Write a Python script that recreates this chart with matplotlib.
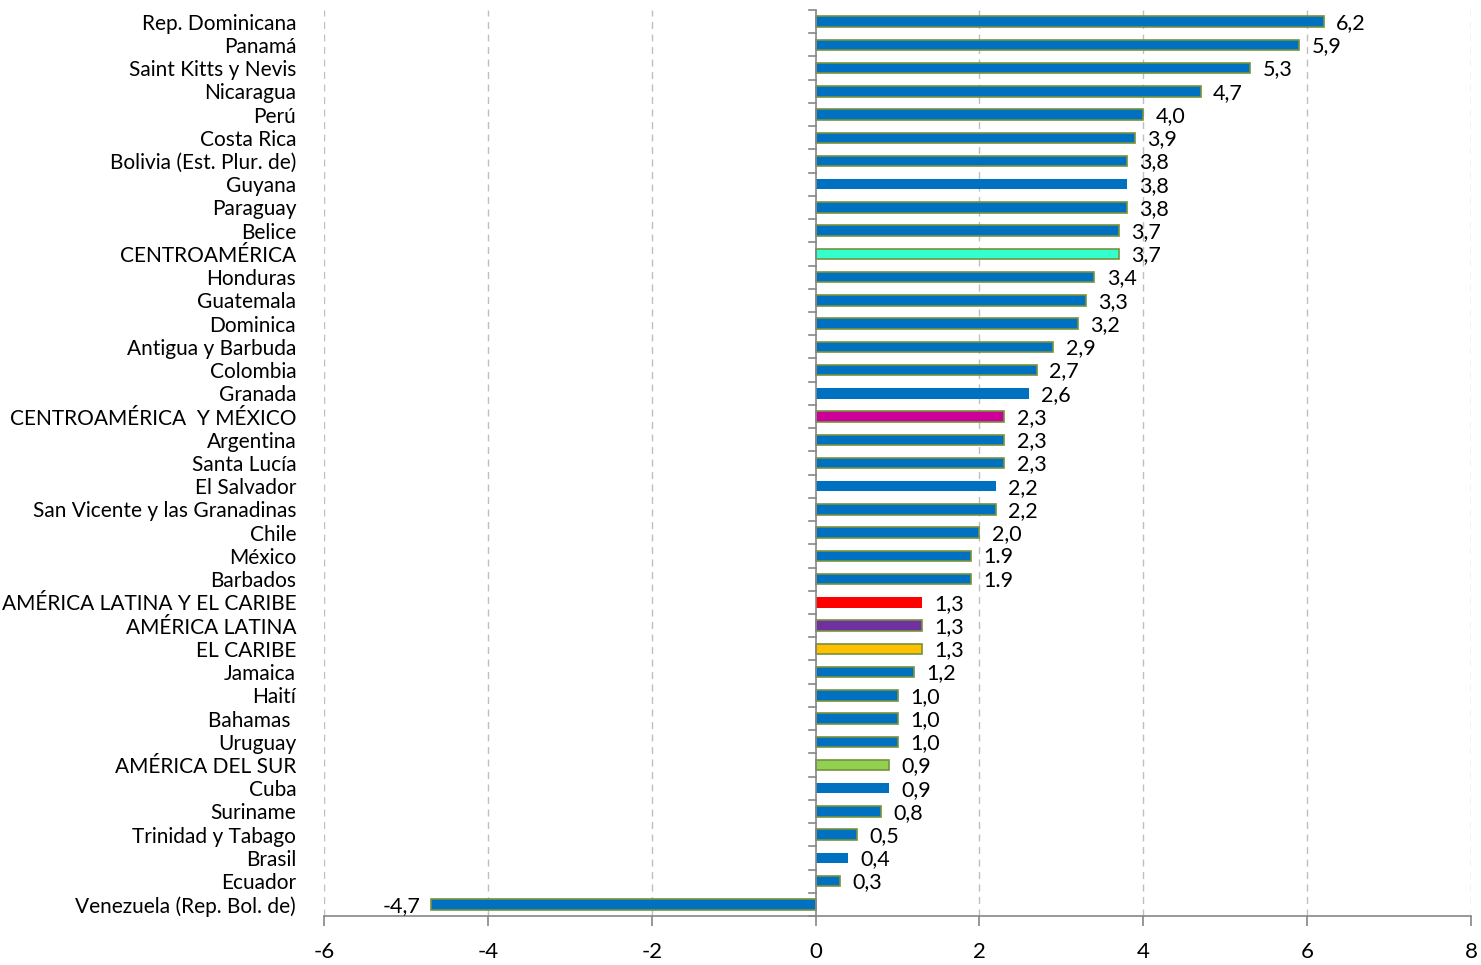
import matplotlib
matplotlib.use("Agg")
import matplotlib.pyplot as plt

plt.rcParams['font.family'] = ['Lato', 'DejaVu Sans']

categories = ["Rep. Dominicana", "Panamá", "Saint Kitts y Nevis", "Nicaragua", "Perú",
              "Costa Rica", "Bolivia (Est. Plur. de)", "Guyana", "Paraguay", "Belice",
              "CENTROAMÉRICA", "Honduras", "Guatemala", "Dominica", "Antigua y Barbuda",
              "Colombia", "Granada", "CENTROAMÉRICA  Y MÉXICO", "Argentina", "Santa Lucía",
              "El Salvador", "San Vicente y las Granadinas", "Chile", "México", "Barbados",
              "AMÉRICA LATINA Y EL CARIBE", "AMÉRICA LATINA", "EL CARIBE", "Jamaica", "Haití",
              "Bahamas ", "Uruguay", "AMÉRICA DEL SUR", "Cuba", "Suriname",
              "Trinidad y Tabago", "Brasil", "Ecuador", "Venezuela (Rep. Bol. de)"]
values = [6.2, 5.9, 5.3, 4.7, 4.0, 3.9, 3.8, 3.8, 3.8, 3.7,
          3.7, 3.4, 3.3, 3.2, 2.9, 2.7, 2.6, 2.3, 2.3, 2.3,
          2.2, 2.2, 2.0, 1.9, 1.9, 1.3, 1.3, 1.3, 1.2, 1.0,
          1.0, 1.0, 0.9, 0.9, 0.8, 0.5, 0.4, 0.3, -4.7]
value_labels = ["6,2", "5,9", "5,3", "4,7", "4,0", "3,9", "3,8", "3,8", "3,8", "3,7",
                "3,7", "3,4", "3,3", "3,2", "2,9", "2,7", "2,6", "2,3", "2,3", "2,3",
                "2,2", "2,2", "2,0", "1.9", "1.9", "1,3", "1,3", "1,3", "1,2", "1,0",
                "1,0", "1,0", "0,9", "0,9", "0,8", "0,5", "0,4", "0,3", "-4,7"]
x_ticks = [-6, -4, -2, 0, 2, 4, 6, 8]

BLUE = "#0070C0"
special_colors = {
    "CENTROAMÉRICA": "#33FFCC",
    "CENTROAMÉRICA  Y MÉXICO": "#CC0099",
    "AMÉRICA LATINA Y EL CARIBE": "#FF0000",
    "AMÉRICA LATINA": "#7030A0",
    "EL CARIBE": "#FFC000",
    "AMÉRICA DEL SUR": "#92D050",
}
no_edge = {"Guyana", "El Salvador", "Granada", "Cuba", "Brasil", "AMÉRICA LATINA Y EL CARIBE"}

fig = plt.figure(figsize=(14.81, 9.65), dpi=100)
ax = fig.add_axes([324 / 1481, 49 / 965, (1471 - 324) / 1481, (916 - 10) / 965])

pos = list(range(len(categories)))
colors = [special_colors.get(c, BLUE) for c in categories]
edges = ["none" if c in no_edge else "#76923C" for c in categories]
ax.barh(pos, values, height=0.45, color=colors, edgecolor=edges, linewidth=1.2, zorder=3)

ax.set_xlim(-6, 8)
ax.set_ylim(len(categories) - 0.5, -0.5)

for t in x_ticks:
    if t != 0:
        ax.axvline(t, color="#BFBFBF", linestyle=(0, (5, 4)), linewidth=1.0, zorder=1)
ax.axvline(0, color="#868686", linewidth=1.2, zorder=4)
for k in range(len(categories) + 1):
    ax.plot([-0.075, 0], [k - 0.5, k - 0.5], color="#868686", linewidth=1.2, zorder=4,
            clip_on=False)

for p, v, lab in zip(pos, values, value_labels):
    if v >= 0:
        ax.annotate(lab, (v, p), xytext=(9, -1), textcoords="offset points",
                    ha="left", va="center", fontsize=15.5, color="#000000")
    else:
        ax.annotate(lab, (v, p), xytext=(-7, -1), textcoords="offset points",
                    ha="right", va="center", fontsize=15.5, color="#000000")

ax.set_yticks(pos)
ax.set_yticklabels(categories, fontsize=15)
ax.tick_params(axis="y", length=0, pad=20)
ax.set_xticks(x_ticks)
ax.set_xticklabels([str(t) for t in x_ticks], fontsize=16)
ax.tick_params(axis="x", length=7, width=1.2, color="#868686", pad=12)

for s in ["top", "right", "left"]:
    ax.spines[s].set_visible(False)
ax.spines["bottom"].set_color("#868686")
ax.spines["bottom"].set_linewidth(1.2)

fig.savefig("out.png", dpi=100)
